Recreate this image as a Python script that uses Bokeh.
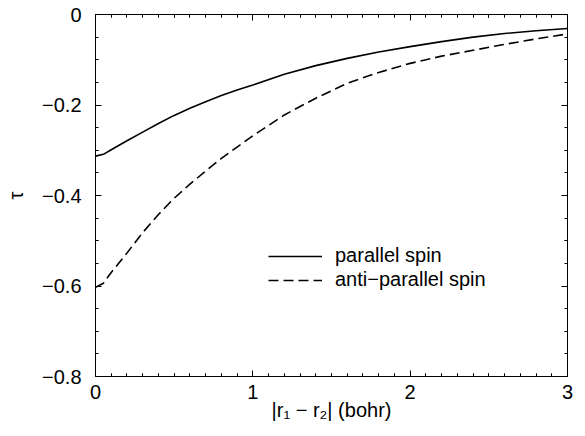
from bokeh.plotting import figure
from bokeh.models import (LinearAxis, BasicTicker, CustomJSTickFormatter,
                          Legend, LegendItem, Range1d)
from bokeh.embed import file_html
from bokeh.resources import INLINE

# separation |r1 - r2| in bohr
sep_parallel = [0.0, 0.05, 0.1, 0.2, 0.3, 0.4, 0.5, 0.6, 0.7, 0.8, 0.9, 1.0,
                1.2, 1.4, 1.6, 1.8, 2.0, 2.2, 2.4, 2.6, 2.8, 3.0]
tau_parallel = [-0.313, -0.309, -0.299, -0.279, -0.260, -0.241, -0.223, -0.207,
                -0.193, -0.179, -0.167, -0.156, -0.132, -0.113, -0.097, -0.083,
                -0.071, -0.060, -0.050, -0.042, -0.036, -0.031]

sep_anti = [0.0, 0.05, 0.1, 0.2, 0.3, 0.4, 0.5, 0.6, 0.7, 0.8, 0.9, 1.0,
            1.2, 1.4, 1.6, 1.8, 2.0, 2.2, 2.4, 2.6, 2.8, 3.0]
tau_anti = [-0.603, -0.594, -0.570, -0.527, -0.482, -0.442, -0.406, -0.375,
            -0.346, -0.318, -0.293, -0.268, -0.222, -0.185, -0.152, -0.128,
            -0.108, -0.092, -0.079, -0.066, -0.054, -0.043]

legend_labels = ["parallel spin", "anti\u2212parallel spin"]
x_label = "|r\u2081 \u2212 r\u2082| (bohr)"
y_label = "\u03c4"

X_MIN, X_MAX = 0, 3
Y_MIN, Y_MAX = -0.8, 0

FONT = "Liberation Sans"
FS = "20px"

p = figure(width=585, height=436, output_backend="svg", toolbar_location=None,
           x_range=Range1d(X_MIN, X_MAX), y_range=Range1d(Y_MIN, Y_MAX),
           x_axis_type=None, y_axis_type=None,
           min_border_left=95, min_border_right=18, min_border_top=14,
           min_border_bottom=60)
p.grid.visible = False
p.outline_line_color = "black"
p.outline_line_width = 1
p.background_fill_color = "white"
p.border_fill_color = "white"

yfmt = CustomJSTickFormatter(code="""
if (Math.abs(tick) < 1e-9) return "0";
return "\u2212" + Math.abs(tick).toFixed(1);
""")
blank = CustomJSTickFormatter(code="return '';")


def xticker():
    return BasicTicker(desired_num_ticks=3, min_interval=1, max_interval=1,
                       num_minor_ticks=10)


def yticker():
    return BasicTicker(desired_num_ticks=4, min_interval=0.2, max_interval=0.2,
                       num_minor_ticks=4)


def style(ax):
    ax.major_tick_in = 6
    ax.major_tick_out = 0
    ax.minor_tick_in = 3
    ax.minor_tick_out = 0
    ax.axis_line_color = "black"
    ax.major_tick_line_color = "black"
    ax.minor_tick_line_color = "black"
    ax.major_label_text_font = FONT
    ax.major_label_text_font_size = FS
    ax.major_label_text_color = "black"
    ax.axis_label_text_font = FONT
    ax.axis_label_text_font_size = FS
    ax.axis_label_text_font_style = "normal"
    ax.axis_label_text_color = "black"


xb = LinearAxis(ticker=xticker(), axis_label=x_label)
style(xb)
xb.major_label_standoff = 8
xb.axis_label_standoff = -3
p.add_layout(xb, "below")

xt = LinearAxis(ticker=xticker(), formatter=blank)
style(xt)
xt.major_label_standoff = 0
p.add_layout(xt, "above")

yl = LinearAxis(ticker=yticker(), formatter=yfmt, axis_label=y_label)
style(yl)
yl.major_label_standoff = 14
yl.axis_label_standoff = 12
p.add_layout(yl, "left")

yr = LinearAxis(ticker=yticker(), formatter=blank)
style(yr)
yr.major_label_standoff = 0
p.add_layout(yr, "right")


# inward tick marks drawn as outward ticks of axes fixed on the frame edges
def edge_ticks(loc, side, minor):
    ax = LinearAxis(fixed_location=loc)
    ax.axis_line_color = None
    ax.major_tick_in = 0
    ax.major_tick_out = 3
    ax.minor_tick_in = 0
    ax.minor_tick_out = 3 if minor else 0
    ax.major_tick_line_color = "black"
    ax.minor_tick_line_color = "black"
    ax.major_label_text_alpha = 0
    ax.major_label_text_font_size = "10px"
    p.add_layout(ax, side)


edge_ticks(Y_MIN, "above", True)   # bottom edge, ticks pointing up
edge_ticks(Y_MAX, "below", True)   # top edge, ticks pointing down
edge_ticks(X_MIN, "right", False)  # left edge, ticks pointing right
edge_ticks(X_MAX, "left", False)   # right edge, ticks pointing left

r1 = p.line(sep_parallel, tau_parallel, line_color="black", line_width=1.6)
r2 = p.line(sep_anti, tau_anti, line_color="black", line_width=1.6,
            line_dash="10 5")

leg = Legend(items=[LegendItem(label=legend_labels[0], renderers=[r1]),
                    LegendItem(label=legend_labels[1], renderers=[r2])],
             location=(173, 85), padding=0, margin=0, spacing=1,
             glyph_width=54, glyph_height=20, label_standoff=13,
             label_height=20,
             label_text_font=FONT, label_text_font_size=FS,
             label_text_color="black", border_line_color=None,
             background_fill_alpha=0)
p.add_layout(leg, "center")

open("out.html", "w").write(file_html(p, INLINE))
